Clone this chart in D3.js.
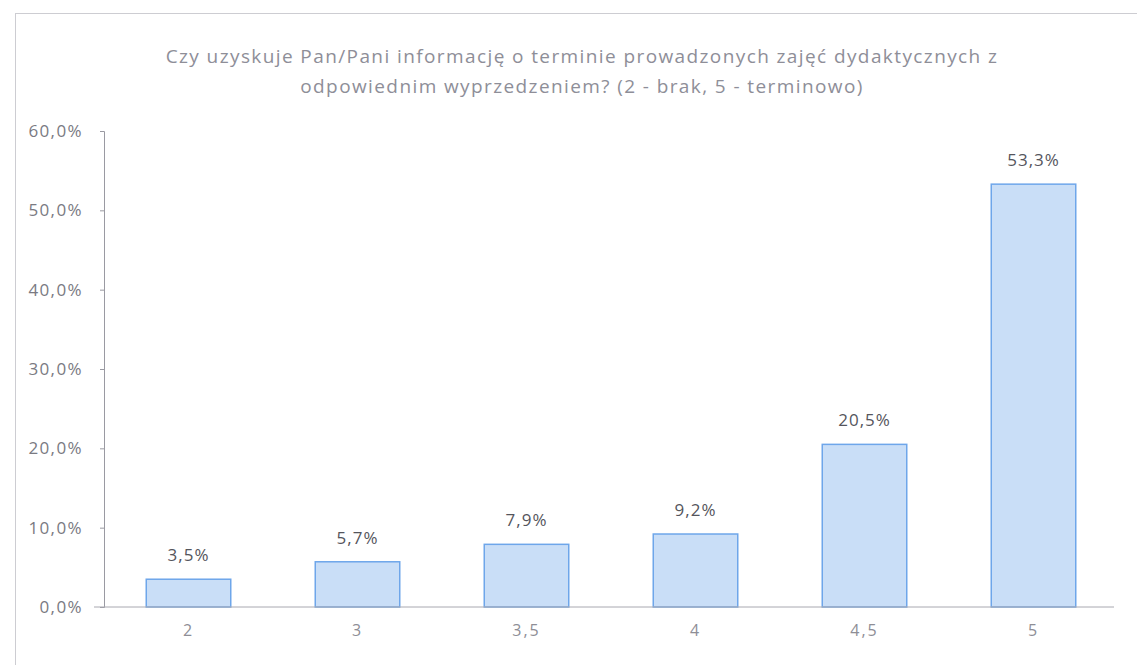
<!DOCTYPE html>
<html>
<head>
<meta charset="utf-8">
<script src="https://cdn.jsdelivr.net/npm/d3@7"></script>
<style>
  html, body { margin: 0; padding: 0; background: #fff; }
  svg { display: block; font-family: "Open Sans", Lato, sans-serif; }
</style>
</head>
<body>
<div id="chart"></div>
<script>
var categories = ["2", "3", "3,5", "4", "4,5", "5"];
var values = [3.5, 5.7, 7.9, 9.2, 20.5, 53.3];
var yTicks = [0, 10, 20, 30, 40, 50, 60];
var titleLines = [
  "Czy uzyskuje Pan/Pani informację o terminie prowadzonych zajęć dydaktycznych z",
  "odpowiednim wyprzedzeniem? (2 - brak, 5 - terminowo)"
];

var W = 1137, H = 665;
var m = { left: 104, right: 1118, top: 131, bottom: 607 };
var fmt = function (v) { return v.toFixed(1).replace(".", ",") + "%"; };
var FONT = "'Open Sans', Lato, sans-serif";

var svg = d3.select("#chart").append("svg")
  .attr("width", W).attr("height", H);

// outer chart frame (scan shows left and top edges)
svg.append("rect")
  .attr("x", 15.5).attr("y", 13.5)
  .attr("width", W - 14).attr("height", H)
  .attr("fill", "none").attr("stroke", "#cdcdd2").attr("stroke-width", 1);

var title = svg.append("text")
  .attr("text-anchor", "middle").attr("font-size", 19)
  .attr("letter-spacing", 1.4)
  .attr("fill", "#8e8e98");
titleLines.forEach(function (t, i) {
  title.append("tspan").attr("x", 582).attr("y", 63 + i * 30).text(t);
});

var x = d3.scaleBand().domain(categories)
  .range([m.left, m.right]).paddingInner(0.5).paddingOuter(0.25);
var y = d3.scaleLinear().domain([0, 60]).range([m.bottom, m.top]);

// y axis
var yAxis = svg.append("g")
  .attr("transform", "translate(" + m.left + ",0)")
  .call(d3.axisLeft(y).tickValues(yTicks).tickFormat(fmt)
    .tickSize(4).tickPadding(17));
yAxis.select(".domain").attr("stroke", "#9a9aa2");
yAxis.selectAll(".tick line").attr("stroke", "#9a9aa2");
yAxis.selectAll(".tick text")
  .attr("font-size", 17).attr("letter-spacing", 1.4)
  .attr("fill", "#7a7a82")
  .attr("font-family", FONT);

// bars
svg.append("g").selectAll("rect")
  .data(values).join("rect")
  .attr("x", function (d, i) { return x(categories[i]); })
  .attr("y", function (d) { return y(d); })
  .attr("width", x.bandwidth())
  .attr("height", function (d) { return y(0) - y(d); })
  .attr("fill", "#c9def7")
  .attr("stroke", "#6ea6ea").attr("stroke-width", 1.5);

// value labels
svg.append("g").selectAll("text")
  .data(values).join("text")
  .attr("x", function (d, i) { return x(categories[i]) + x.bandwidth() / 2; })
  .attr("y", function (d) { return y(d) - 18; })
  .attr("text-anchor", "middle").attr("font-size", 17)
  .attr("letter-spacing", 1)
  .attr("fill", "#55555c")
  .text(fmt);

// x axis
var xAxis = svg.append("g")
  .attr("transform", "translate(0," + m.bottom + ")")
  .call(d3.axisBottom(x).tickSize(0).tickPadding(18));
xAxis.select(".domain").attr("stroke", "#a8a8b0").attr("d", "M" + (m.left - 10) + ",0H" + (m.right - 4));
xAxis.selectAll(".tick text")
  .attr("font-size", 16).attr("letter-spacing", 2)
  .attr("fill", "#8e8e96")
  .attr("font-family", FONT);
</script>
</body>
</html>
